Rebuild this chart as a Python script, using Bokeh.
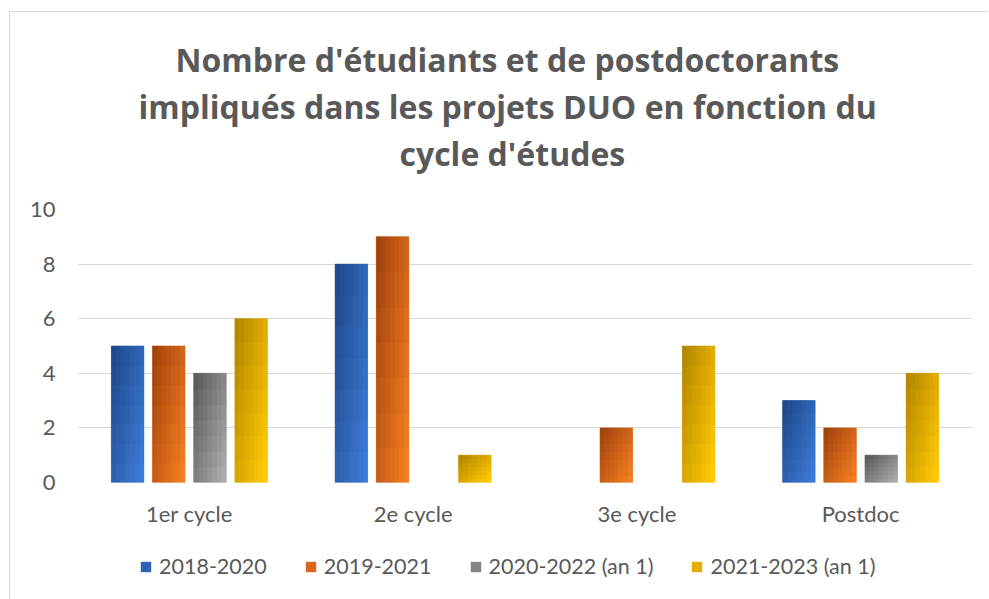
from bokeh.plotting import figure
from bokeh.models import (ColumnDataSource, Range1d, FixedTicker, Legend, LegendItem, Title)
from bokeh.layouts import column
from bokeh.embed import file_html
from bokeh.resources import INLINE

categories = ["1er cycle", "2e cycle", "3e cycle", "Postdoc"]
series_names = ["2018-2020", "2019-2021", "2020-2022 (an 1)", "2021-2023 (an 1)"]
s2018_2020 = [5, 8, 0, 3]
s2019_2021 = [5, 9, 2, 2]
s2020_2022 = [4, 0, 0, 1]
s2021_2023 = [6, 1, 5, 4]
series_values = [s2018_2020, s2019_2021, s2020_2022, s2021_2023]
y_ticks = [0, 2, 4, 6, 8, 10]
title_lines = ["Nombre d'étudiants et de postdoctorants",
               "impliqués dans les projets DUO en fonction du",
               "cycle d'études"]

# gradient colours (dark top-left -> light bottom-right), plus flat legend colour
dark = ["#1f4a8c", "#a3440d", "#5c5c5c", "#b58800"]
light = ["#3d7bd6", "#f47e22", "#ababab", "#ffca05"]
flat = ["#2e63b8", "#d8661b", "#858585", "#e6ac00"]

offsets = [-0.276, -0.092, 0.092, 0.276]
bar_w = 0.145
NC, NR = 7, 7

TXT = "#595959"
FONT = "Lato"
TFONT = "Open Sans"

def hex2rgb(h):
    h = h.lstrip("#")
    return [int(h[i:i + 2], 16) for i in (0, 2, 4)]

def lerp(c1, c2, t):
    a, b = hex2rgb(c1), hex2rgb(c2)
    return "#%02x%02x%02x" % tuple(int(round(a[k] + (b[k] - a[k]) * t)) for k in range(3))

p = figure(frame_width=895, frame_height=273, output_backend="svg", toolbar_location=None,
           x_range=Range1d(0, len(categories)), y_range=Range1d(0, 10), title=None,
           min_border_left=67, min_border_right=16, min_border_top=197, min_border_bottom=60)
p.outline_line_color = None
p.background_fill_color = "white"
p.border_fill_color = "white"

# separate strip figure that only carries the legend (its frame covers the whole strip)
lf = figure(width=978, height=57, output_backend="svg", toolbar_location=None,
            x_range=Range1d(100, 101), y_range=Range1d(100, 101),
            x_axis_location=None, y_axis_location=None,
            min_border_left=0, min_border_right=0, min_border_top=0, min_border_bottom=0)
lf.outline_line_color = None
lf.xgrid.grid_line_color = None
lf.ygrid.grid_line_color = None
lf.background_fill_color = "white"
lf.border_fill_color = "white"

legend_items = []
for si, vals in enumerate(series_values):
    xs = [ci + 0.5 + offsets[si] for ci in range(len(categories))]
    p.vbar(x=xs, top=vals, width=bar_w, fill_color=flat[si], line_color=None)
    leg_r = lf.vbar(x=xs, top=vals, width=bar_w, fill_color=flat[si], line_color=None)
    legend_items.append(LegendItem(label=series_names[si], renderers=[leg_r]))
    L, R, B, T, C = [], [], [], [], []
    for ci, v in enumerate(vals):
        if v <= 0:
            continue
        x0 = xs[ci] - bar_w / 2
        for a in range(NC):
            for b in range(NR):
                L.append(x0 + bar_w * a / NC)
                R.append(x0 + bar_w * (a + 1) / NC)
                B.append(v * b / NR)
                T.append(v * (b + 1) / NR)
                t = 0.55 * (a / (NC - 1)) + 0.45 * (1 - b / (NR - 1))
                C.append(lerp(dark[si], light[si], t))
    src = ColumnDataSource(dict(left=L, right=R, bottom=B, top=T, color=C))
    p.quad(left="left", right="right", bottom="bottom", top="top", source=src,
           fill_color="color", line_color="color", line_width=0.6)

# axes
p.xaxis.ticker = FixedTicker(ticks=[i + 0.5 for i in range(len(categories))])
p.xaxis.major_label_overrides = {i + 0.5: c for i, c in enumerate(categories)}
p.yaxis.ticker = FixedTicker(ticks=y_ticks)
for ax in (p.xaxis, p.yaxis):
    ax.axis_line_color = None
    ax.major_tick_line_color = None
    ax.minor_tick_line_color = None
    ax.major_tick_out = 0
    ax.major_tick_in = 0
    ax.minor_tick_out = 0
    ax.major_label_text_color = TXT
    ax.major_label_text_font = FONT
    ax.major_label_text_font_size = "22px"
p.xaxis.major_label_standoff = 17
p.yaxis.major_label_standoff = 22
p.xgrid.grid_line_color = None
p.ygrid.grid_line_color = "#d9d9d9"
p.ygrid.grid_line_width = 1

legend = Legend(items=legend_items, orientation="horizontal", location=(62, 20),
                label_text_font=FONT, label_text_font_size="21.5px", label_text_color=TXT,
                glyph_width=13, glyph_height=13, label_standoff=7, spacing=37,
                padding=0, margin=0, border_line_color=None, background_fill_alpha=0)
lf.add_layout(legend, "center")

# title: spacer nearest the frame, then lines 3, 2, 1 stacked upwards
p.add_layout(Title(text=" ", text_font_size="10px", standoff=21), "above")
title_offsets = [98, 61, 322]
for txt, off in reversed(list(zip(title_lines, title_offsets))):
    p.add_layout(Title(text=txt, align="left", offset=off, text_font=TFONT,
                       text_font_style="bold", text_font_size="32px", text_color=TXT,
                       standoff=2), "above")

layout = column(p, lf, spacing=0)
layout.styles = {"margin-left": "9px", "margin-top": "11px",
                 "border-left": "1px solid #d9d9d9", "border-top": "1px solid #d9d9d9"}

open("out.html", "w").write(file_html(layout, INLINE))
